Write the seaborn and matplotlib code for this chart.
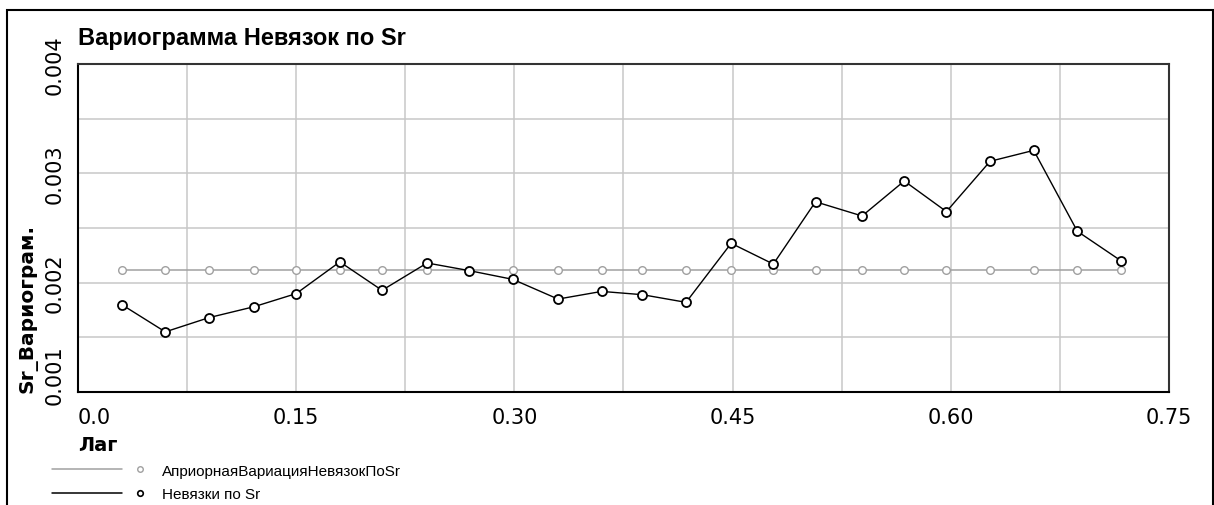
import matplotlib
matplotlib.use('Agg')
import matplotlib.pyplot as plt
import matplotlib.font_manager as fm
import matplotlib.transforms as mtransforms
from matplotlib.legend_handler import HandlerLine2DCompound
from matplotlib.lines import Line2D
from matplotlib.patches import Rectangle
from matplotlib.ticker import MultipleLocator
import seaborn as sns

# values
lag = [0.030, 0.060, 0.090, 0.121, 0.150, 0.180, 0.209, 0.240, 0.269, 0.299, 0.330, 0.360,
       0.388, 0.418, 0.449, 0.478, 0.507, 0.539, 0.568, 0.597, 0.627, 0.657, 0.687, 0.717]
apriori = [0.00212, 0.00212, 0.00212, 0.00212, 0.00212, 0.00212, 0.00212, 0.00212,
           0.00212, 0.00212, 0.00212, 0.00212, 0.00212, 0.00212, 0.00212, 0.00212,
           0.00212, 0.00212, 0.00212, 0.00212, 0.00212, 0.00212, 0.00212, 0.00212]
residuals = [0.00180, 0.00155, 0.00168, 0.00178, 0.00190, 0.00219, 0.00193, 0.00218,
             0.00211, 0.00203, 0.00185, 0.00192, 0.00189, 0.00182, 0.00236, 0.00217,
             0.00274, 0.00261, 0.00293, 0.00265, 0.00311, 0.00321, 0.00247, 0.00220]
series_names = ['АприорнаяВариацияНевязокПоSr', 'Невязки по Sr']
x_ticks = [0.0, 0.15, 0.30, 0.45, 0.60, 0.75]
x_tick_labels = ['0.0', '0.15', '0.30', '0.45', '0.60', '0.75']
y_ticks = [0.001, 0.002, 0.003, 0.004]
y_tick_labels = ['0.001', '0.002', '0.003', '0.004']

GRAY = '#a0a0a0'

sns.set_style('white')
plt.rcParams['font.family'] = ['DejaVu Sans']
plt.rcParams['text.color'] = 'black'
plt.rcParams['axes.labelcolor'] = 'black'
plt.rcParams['axes.titlecolor'] = 'black'

installed = {f.name for f in fm.fontManager.ttflist}
if 'Liberation Sans Narrow' in installed:
    title_font, title_size = 'Liberation Sans Narrow', 20
else:
    title_font, title_size = 'Liberation Sans', 17


class SideMarkerHandler(HandlerLine2DCompound):
    # line on the left part of the handle box, marker on its own to the right
    def get_xdata(self, legend, xdescent, ydescent, width, height, fontsize):
        return [-xdescent, -xdescent + 0.70 * width], [-xdescent + 0.88 * width]


fig = plt.figure(figsize=(12.14, 5.06), dpi=100)
ax = fig.add_axes([78 / 1214, 113 / 506, 1091 / 1214, 328 / 506])

sns.lineplot(x=lag, y=apriori, ax=ax, color=GRAY, linewidth=1.1, marker='o',
             markersize=5.5, markerfacecolor='white', markeredgecolor=GRAY,
             markeredgewidth=1.0, sort=False)
sns.lineplot(x=lag, y=residuals, ax=ax, color='black', linewidth=1.0, marker='o',
             markersize=6.5, markerfacecolor='white', markeredgecolor='black',
             markeredgewidth=1.3, sort=False)

ax.set_xlim(0, 0.75)
ax.set_ylim(0.001, 0.004)
ax.set_xticks(x_ticks, x_tick_labels)
ax.set_yticks(y_ticks)
ax.xaxis.set_minor_locator(MultipleLocator(0.075))
ax.yaxis.set_minor_locator(MultipleLocator(0.0005))
ax.grid(which='both', color='#c8c8c8', linewidth=1.1)
ax.set_axisbelow(True)
ax.tick_params(which='major', direction='out', length=3.6, width=1.5, color='black')
ax.tick_params(which='minor', length=0)
ax.tick_params(axis='x', pad=7, labelsize=15, labelcolor='black')
ax.tick_params(axis='y', labelleft=False)
ax.get_xticklabels()[0].set_horizontalalignment('left')

for side, spine in ax.spines.items():
    spine.set_visible(True)
    spine.set_linewidth(1.5)
    spine.set_color('black' if side in ('left', 'bottom') else '#333333')

# rotated y tick labels, the lowest one lifted off the x axis
for val, txt in zip(y_ticks, y_tick_labels):
    lift = 18 if val == y_ticks[0] else 0
    tr = mtransforms.offset_copy(ax.get_yaxis_transform(), fig=fig, x=-13, y=lift, units='dots')
    ax.text(0, val, txt, transform=tr, rotation=90, ha='right', va='center',
            fontsize=15, color='black')

ax.set_title('Вариограмма Невязок по Sr', loc='left', pad=14.4,
             fontfamily=title_font, fontweight='bold', fontsize=title_size)
ax.set_ylabel('Sr_Вариограм.', loc='bottom', fontweight='bold', fontsize=14.5)
ax.yaxis.set_label_coords(-0.037, 0.0)
ax.set_xlabel('Лаг', loc='left', fontweight='bold', fontsize=14)
ax.xaxis.set_label_coords(0.0, -0.13)

handles = [
    Line2D([], [], color=GRAY, linewidth=1.1, marker='o', markersize=4,
           markerfacecolor='white', markeredgecolor=GRAY, markeredgewidth=1.0),
    Line2D([], [], color='black', linewidth=1.1, marker='o', markersize=4,
           markerfacecolor='white', markeredgecolor='black', markeredgewidth=1.2),
]
ax.legend(handles, series_names, handler_map={Line2D: SideMarkerHandler()},
          loc='upper left', bbox_to_anchor=(-0.0238, -0.219), frameon=False,
          prop={'family': 'Liberation Sans', 'size': 11}, handlelength=6.54,
          handletextpad=0.65, labelspacing=0.6, borderpad=0, borderaxespad=0)

# outer frame of the chart window
fig.add_artist(Rectangle((7 / 1214, -0.05), 1206 / 1214, 1.05 - 11 / 506,
                         transform=fig.transFigure, fill=False,
                         edgecolor='black', linewidth=1.5))

fig.savefig('out.png', dpi=100)
